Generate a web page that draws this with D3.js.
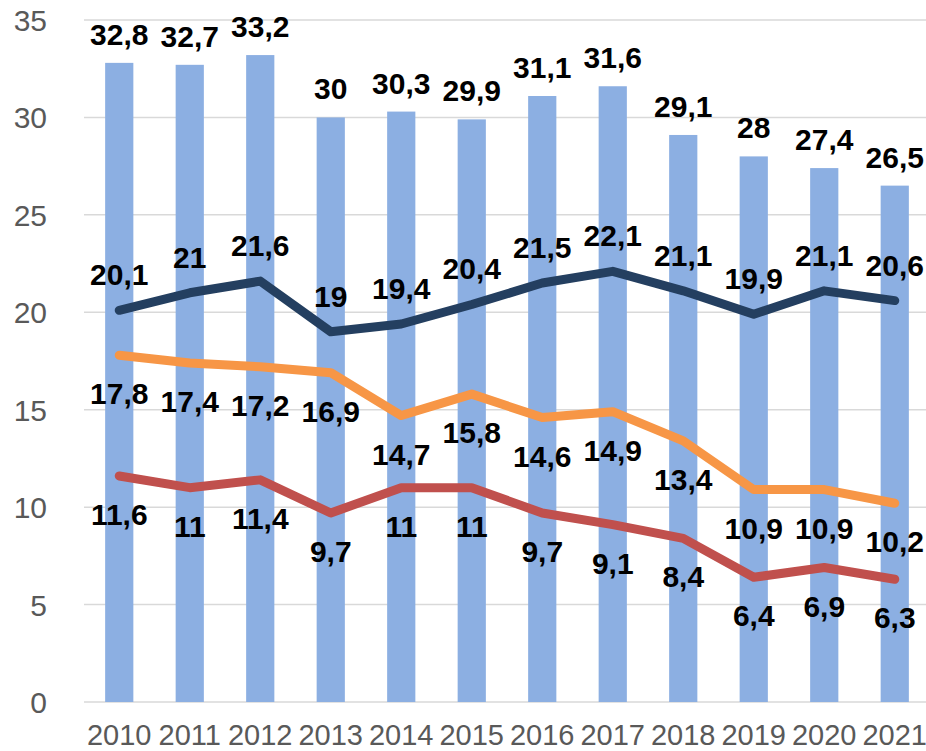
<!DOCTYPE html>
<html>
<head>
<meta charset="utf-8">
<script src="https://cdn.jsdelivr.net/npm/d3@7"></script>
<style>
  html, body { margin: 0; padding: 0; background: #fff; }
  svg { display: block; font-family: 'Liberation Sans', Arial, sans-serif; }
</style>
</head>
<body>
<div class="canvas"></div>
<script>
const years = ['2010', '2011', '2012', '2013', '2014', '2015', '2016', '2017', '2018', '2019', '2020', '2021'];
const barValues = [32.8, 32.7, 33.2, 30, 30.3, 29.9, 31.1, 31.6, 29.1, 28, 27.4, 26.5];
const navyValues = [20.1, 21, 21.6, 19, 19.4, 20.4, 21.5, 22.1, 21.1, 19.9, 21.1, 20.6];
const orangeValues = [17.8, 17.4, 17.2, 16.9, 14.7, 15.8, 14.6, 14.9, 13.4, 10.9, 10.9, 10.2];
const redValues = [11.6, 11, 11.4, 9.7, 11, 11, 9.7, 9.1, 8.4, 6.4, 6.9, 6.3];
const yTicks = [0, 5, 10, 15, 20, 25, 30, 35];

const dims = { width: 926, height: 751 };
const plot = { left: 84, right: 930, top: 20, bottom: 702 };

const svg = d3.select('.canvas')
  .append('svg')
  .attr('width', dims.width)
  .attr('height', dims.height);

const x = d3.scaleBand()
  .domain(years)
  .range([plot.left, plot.right])
  .paddingInner(0.6)
  .paddingOuter(0.3);

const y = d3.scaleLinear()
  .domain([0, 35])
  .range([plot.bottom, plot.top]);

const fmt = v => String(v).replace('.', ',');
const cx = (d, i) => x(years[i]) + x.bandwidth() / 2;

// gridlines
svg.append('g')
  .selectAll('line')
  .data(yTicks)
  .enter()
  .append('line')
    .attr('x1', plot.left)
    .attr('x2', dims.width)
    .attr('y1', d => y(d))
    .attr('y2', d => y(d))
    .attr('stroke', '#d9d9d9')
    .attr('stroke-width', 1.5);

// y tick labels
svg.append('g')
  .selectAll('text')
  .data(yTicks)
  .enter()
  .append('text')
    .attr('x', 47)
    .attr('y', d => y(d) + 11)
    .attr('text-anchor', 'end')
    .attr('font-size', 30)
    .attr('fill', '#595959')
    .text(d => d);

// x tick labels
svg.append('g')
  .selectAll('text')
  .data(years)
  .enter()
  .append('text')
    .attr('x', d => x(d) + x.bandwidth() / 2)
    .attr('y', 745)
    .attr('text-anchor', 'middle')
    .attr('font-size', 29)
    .attr('fill', '#595959')
    .text(d => d);

// bars
svg.append('g')
  .selectAll('rect')
  .data(barValues)
  .enter()
  .append('rect')
    .attr('x', (d, i) => x(years[i]))
    .attr('y', d => y(d))
    .attr('width', x.bandwidth())
    .attr('height', d => y(0) - y(d))
    .attr('fill', '#8cafe2');

const line = d3.line()
  .x(cx)
  .y(d => y(d));

const series = [
  { values: redValues, color: '#c0504d', dy: 49 },
  { values: orangeValues, color: '#f79646', dy: 49 },
  { values: navyValues, color: '#243f60', dy: -25 }
];

series.forEach(s => {
  svg.append('path')
    .datum(s.values)
    .attr('d', line)
    .attr('fill', 'none')
    .attr('stroke', s.color)
    .attr('stroke-width', 9)
    .attr('stroke-linejoin', 'round')
    .attr('stroke-linecap', 'round');
});

const labels = svg.append('g')
  .attr('font-size', 30)
  .attr('font-weight', 'bold')
  .attr('fill', '#000')
  .attr('text-anchor', 'middle');

labels.selectAll('text.bar')
  .data(barValues)
  .enter()
  .append('text')
    .attr('class', 'bar')
    .attr('x', cx)
    .attr('y', d => y(d) - 18)
    .text(fmt);

series.forEach((s, k) => {
  labels.selectAll('text.s' + k)
    .data(s.values)
    .enter()
    .append('text')
      .attr('class', 's' + k)
      .attr('x', cx)
      .attr('y', d => y(d) + s.dy)
      .text(fmt);
});
</script>
</body>
</html>
